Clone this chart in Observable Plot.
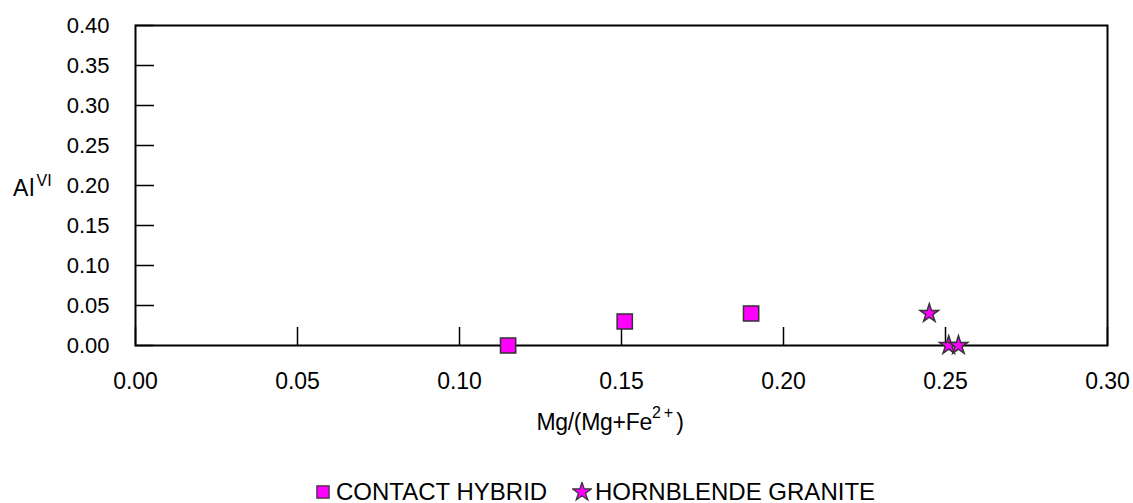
<!DOCTYPE html>
<html>
<head>
<meta charset="utf-8">
<script src="https://cdn.jsdelivr.net/npm/d3@7"></script>
<script src="https://cdn.jsdelivr.net/npm/@observablehq/plot@0.6"></script>
<style>
  html, body { margin: 0; padding: 0; background: #fff; }
  body { width: 1133px; height: 503px; overflow: hidden; font-family: "Liberation Sans", Arial, sans-serif; }
  #legend { position: relative; height: 43px; font-size: 24px; color: #000; line-height: 24px; white-space: nowrap; }
  #legend .item { position: absolute; top: 20px; display: flex; align-items: center; }
  #legend svg { margin-right: 3px; }
</style>
</head>
<body>
<div id="chart"></div>
<div id="legend"></div>
<script>
const xTicks = [0.00, 0.05, 0.10, 0.15, 0.20, 0.25, 0.30];
const yTicks = [0.00, 0.05, 0.10, 0.15, 0.20, 0.25, 0.30, 0.35, 0.40];

const seriesNames = ["CONTACT HYBRID", "HORNBLENDE GRANITE"];
const contactX = [0.115, 0.151, 0.190];
const contactY = [0.000, 0.030, 0.040];
const graniteX = [0.245, 0.251, 0.254];
const graniteY = [0.040, 0.000, 0.000];

const contact = contactX.map((x, i) => ({x, y: contactY[i]}));
const granite = graniteX.map((x, i) => ({x, y: graniteY[i]}));

const font = "'Liberation Sans', Arial, sans-serif";
const fmt = d3.format(".2f");

const chart = Plot.plot({
  width: 1133,
  height: 460,
  marginTop: 25,
  marginBottom: 115,
  marginLeft: 135,
  marginRight: 26,
  style: {fontFamily: font, fontSize: "22px", color: "#000", background: "#fff"},
  x: {domain: [0, 0.30]},
  y: {domain: [0, 0.40]},
  marks: [
    Plot.axisX({ticks: xTicks, tickSize: -18, text: null, label: null, stroke: "#000", strokeWidth: 1.5}),
    Plot.axisY({ticks: yTicks, tickSize: -19, text: null, label: null, stroke: "#000", strokeWidth: 1.5}),
    Plot.axisX({ticks: xTicks, tickSize: 0, tickPadding: 27, tickFormat: fmt, label: null, fontSize: 23}),
    Plot.axisY({ticks: yTicks, tickSize: 0, tickPadding: 26, tickFormat: fmt, label: null, fontSize: 22}),
    Plot.frame({stroke: "#000", strokeWidth: 2}),
    Plot.dot(contact, {x: "x", y: "y", symbol: "square", r: 8.6, fill: "#ff00ff", stroke: "#333", strokeWidth: 1.5}),
    Plot.dot(granite, {x: "x", y: "y", symbol: "star", r: 5.8, fill: "#ff00ff", stroke: "#333", strokeWidth: 1.5})
  ]
});
document.getElementById("chart").appendChild(chart);

const svg = d3.select(chart);
// Y-axis label Al^VI
const yl = svg.append("text").attr("x", 13).attr("y", 196).attr("text-anchor", "start")
  .attr("font-family", font).attr("font-size", 23).attr("fill", "#000");
yl.append("tspan").attr("letter-spacing", "1").text("Al");
yl.append("tspan").attr("font-size", 16).attr("dx", 1).attr("dy", -10).text("VI");
// X-axis label Mg/(Mg+Fe^2+)
const xl = svg.append("text").attr("x", 610).attr("y", 430).attr("text-anchor", "middle")
  .attr("font-family", font).attr("font-size", 23).attr("fill", "#000")
  .attr("letter-spacing", "-0.3");
xl.append("tspan").text("Mg/(Mg+Fe");
xl.append("tspan").attr("font-size", 16).attr("dy", -12).attr("letter-spacing", "3").text("2+");
xl.append("tspan").attr("dy", 12).text(")");

// Legend
const legend = d3.select("#legend");
const items = [
  {name: seriesNames[0], sym: d3.symbolSquare, size: 150, left: 313},
  {name: seriesNames[1], sym: d3.symbolStar, size: 110, left: 572}
];
items.forEach(it => {
  const s = legend.append("div").attr("class", "item").style("left", it.left + "px");
  const ic = s.append("svg").attr("width", 20).attr("height", 20);
  ic.append("path").attr("transform", "translate(10,10)")
    .attr("d", d3.symbol(it.sym, it.size)())
    .attr("fill", "#ff00ff").attr("stroke", "#333").attr("stroke-width", 1.2);
  s.append("span").text(it.name);
});
</script>
</body>
</html>
